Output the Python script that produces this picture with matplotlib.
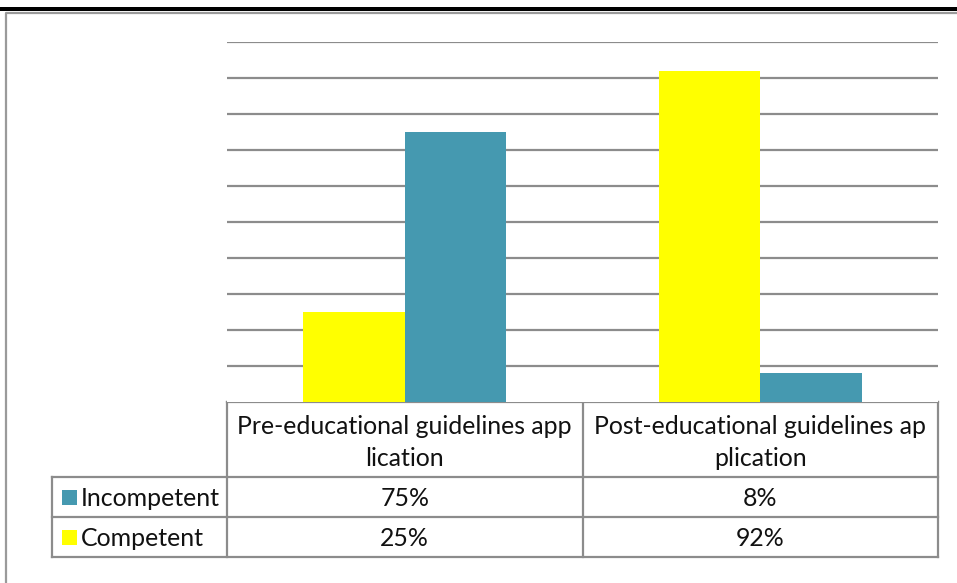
import matplotlib
matplotlib.use("Agg")
import matplotlib.pyplot as plt
from matplotlib.patches import Rectangle

plt.rcParams['font.family'] = ['Lato', 'DejaVu Sans']

# Data
categories = ["Pre-educational guidelines app\nlication",
              "Post-educational guidelines ap\nplication"]
series_names = ["Competent", "Incompetent"]
competent = [25, 92]
incompetent = [75, 8]
colors = {"Competent": "#FFFF00", "Incompetent": "#4599B0"}
table_rows = ["Incompetent", "Competent"]

W, H = 957, 583
fig = plt.figure(figsize=(W / 100, H / 100), dpi=100)

# Pixel-space overlay for the frame and the data table
ov = fig.add_axes([0, 0, 1, 1])
ov.set_xlim(0, W)
ov.set_ylim(H, 0)
ov.axis("off")

# rule under the caption and the chart frame
ov.add_patch(Rectangle((0, 6.5), W, 4, color="black", lw=0))
ov.plot([5.5, 5.5, W + 5], [H + 5, 12.5, 12.5], color="#9a9a9a", lw=1.6)

# Bar axes
x_left, x_right = 227, 938
y_top, y_base = 42, 402
ax = fig.add_axes([x_left / W, (H - y_base) / H,
                   (x_right - x_left) / W, (y_base - y_top) / H])
ax.set_xlim(-0.5, 1.5)
ax.set_ylim(0, 100)
bw = 0.285
xs = range(len(categories))
ax.bar([x - bw / 2 for x in xs], competent, width=bw,
       color=colors["Competent"], zorder=3)
ax.bar([x + bw / 2 for x in xs], incompetent, width=bw,
       color=colors["Incompetent"], zorder=3)
ax.set_yticks(range(10, 101, 10))
ax.yaxis.grid(True, color="#8c8c8c", lw=1.6, zorder=0)
ax.tick_params(left=False, bottom=False, labelleft=False, labelbottom=False)
for s in ax.spines.values():
    s.set_visible(False)

# Data table below the plot
lc = "#8c8c8c"
tlw = 1.6
col_x = [x_left, (x_left + x_right) / 2, x_right]
leg_x = 52
row_y = [y_base, 477, 517, 557]
fs = 17.9

ov.plot([x_left, x_right], [row_y[0], row_y[0]], color=lc, lw=tlw)
for cx in col_x:
    ov.plot([cx, cx], [row_y[0], row_y[-1]], color=lc, lw=tlw)
for ry in row_y[1:]:
    ov.plot([leg_x, x_right], [ry, ry], color=lc, lw=tlw)
ov.plot([leg_x, leg_x], [row_y[1], row_y[-1]], color=lc, lw=tlw)

for i, cat in enumerate(categories):
    cx = (col_x[i] + col_x[i + 1]) / 2
    ov.text(cx, (row_y[0] + row_y[1]) / 2 + 3, cat, ha="center", va="center",
            fontsize=fs, linespacing=1.45, color="#111111")

values = {"Competent": competent, "Incompetent": incompetent}
for r, name in enumerate(table_rows):
    yc = (row_y[r + 1] + row_y[r + 2]) / 2
    ov.add_patch(Rectangle((leg_x + 10, yc - 7), 15, 15,
                           color=colors[name], lw=0))
    ov.text(leg_x + 29, yc + 1, name, ha="left", va="center",
            fontsize=fs, color="#111111")
    for i in range(len(categories)):
        cx = (col_x[i] + col_x[i + 1]) / 2
        ov.text(cx, yc + 1, f"{values[name][i]}%", ha="center", va="center",
                fontsize=fs, color="#111111")

fig.savefig("out.png", dpi=100)
